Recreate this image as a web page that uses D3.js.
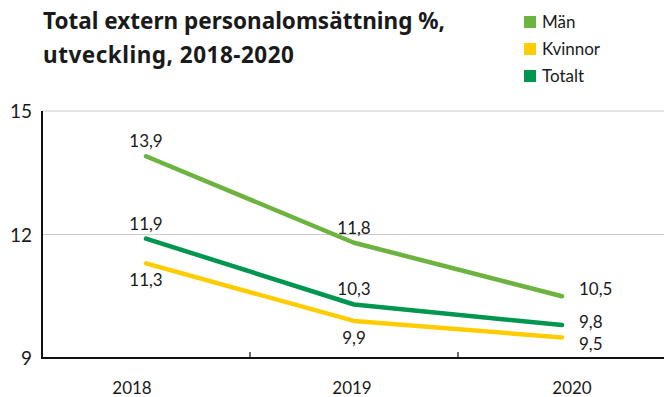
<!DOCTYPE html>
<html>
<head>
<meta charset="utf-8">
<script src="https://cdn.jsdelivr.net/npm/d3@7"></script>
<style>
  html, body { margin: 0; padding: 0; background: #fff; }
  svg { display: block; font-family: Lato, "Noto Sans", sans-serif; }
</style>
</head>
<body>
<svg id="chart" width="664" height="397"></svg>
<script>
// Personnel turnover (%), 2018–2020
const years = ["2018", "2019", "2020"];
const seriesNames = ["Män", "Kvinnor", "Totalt"];
const manValues = [13.9, 11.8, 10.5];
const kvinnorValues = [11.3, 9.9, 9.5];
const totaltValues = [11.9, 10.3, 9.8];
const yTicks = [9, 12, 15];
const titleLines = ["Total extern personalomsättning %,", "utveckling, 2018-2020"];

const colors = { "Män": "#6db33f", "Kvinnor": "#ffcc00", "Totalt": "#00964f" };
const series = [
  { name: "Män", values: manValues },
  { name: "Kvinnor", values: kvinnorValues },
  { name: "Totalt", values: totaltValues }
];

const svg = d3.select("#chart");
const fmt = v => d3.format(".1f")(v).replace(".", ",");

const x = d3.scaleBand().domain(years).range([42, 666]);
const y = d3.scaleLinear().domain([9, 15]).range([358, 111]);
const xLabel = d3.scalePoint().domain(years).range([132, 572]);

// Title
svg.append("text")
  .attr("x", 43).attr("y", 29)
  .attr("font-family", "'Noto Sans', sans-serif")
  .attr("font-size", 22.5).attr("font-weight", 700).attr("fill", "#1a1a1a")
  .selectAll("tspan").data(titleLines).join("tspan")
  .attr("x", 43).attr("dy", (d, i) => i === 0 ? 0 : 34)
  .attr("letter-spacing", (d, i) => i === 0 ? 0 : 0.5)
  .text(d => d);

// Legend
const legend = svg.append("g").selectAll("g").data(seriesNames).join("g")
  .attr("transform", (d, i) => `translate(524, ${16 + i * 27})`);
legend.append("rect").attr("width", 12).attr("height", 12).attr("fill", d => colors[d]);
legend.append("text").attr("x", 18).attr("y", 12)
  .attr("font-size", 17).attr("fill", "#1a1a1a").text(d => d);

// Gridlines
svg.append("g").selectAll("line").data(yTicks.filter(t => t > 9)).join("line")
  .attr("x1", 42).attr("x2", 664)
  .attr("y1", d => y(d)).attr("y2", d => y(d))
  .attr("stroke", "#cccccc").attr("stroke-width", 1);

// Y axis
svg.append("line").attr("x1", 42).attr("x2", 42)
  .attr("y1", y(15)).attr("y2", y(9) + 1)
  .attr("stroke", "#111").attr("stroke-width", 2);
svg.append("g").selectAll("text").data(yTicks).join("text")
  .attr("x", 32).attr("y", d => y(d) + 7)
  .attr("text-anchor", "end").attr("font-size", 19).attr("fill", "#1a1a1a")
  .text(d => d);

// X axis with boundary ticks between categories
svg.append("line").attr("x1", 41).attr("x2", 664)
  .attr("y1", y(9)).attr("y2", y(9))
  .attr("stroke", "#111").attr("stroke-width", 2);
svg.append("g").selectAll("line").data(years.slice(1)).join("line")
  .attr("x1", d => x(d)).attr("x2", d => x(d))
  .attr("y1", y(9)).attr("y2", y(9) - 6)
  .attr("stroke", "#111").attr("stroke-width", 1.2);
svg.append("g").selectAll("text").data(years).join("text")
  .attr("x", d => xLabel(d)).attr("y", 394)
  .attr("text-anchor", "middle").attr("font-size", 17).attr("fill", "#1a1a1a")
  .text(d => d);

// Lines
const cx = d => x(d) + x.bandwidth() / 2;
const line = d3.line().x((v, i) => cx(years[i])).y(v => y(v));
svg.append("g").selectAll("path").data(series).join("path")
  .attr("d", d => line(d.values))
  .attr("fill", "none")
  .attr("stroke", d => colors[d.name])
  .attr("stroke-width", 4.5)
  .attr("stroke-linecap", "round")
  .attr("stroke-linejoin", "round");

// Value labels: above the point, below for Kvinnor, right of the last point
const rightShift = { "Män": -1, "Totalt": 3, "Kvinnor": 13 };
const labels = [];
series.forEach(s => s.values.forEach((v, i) => {
  const last = i === years.length - 1;
  let lx = cx(years[i]), ly, anchor = "middle";
  if (last) { lx += 17; ly = y(v) + rightShift[s.name]; anchor = "start"; }
  else if (s.name === "Kvinnor") ly = y(v) + 23;
  else ly = y(v) - 9;
  labels.push({ v, lx, ly, anchor });
}));
svg.append("g").selectAll("text").data(labels).join("text")
  .attr("x", d => d.lx).attr("y", d => d.ly)
  .attr("text-anchor", d => d.anchor)
  .attr("font-size", 17).attr("fill", "#1a1a1a")
  .text(d => fmt(d.v));
</script>
</body>
</html>
